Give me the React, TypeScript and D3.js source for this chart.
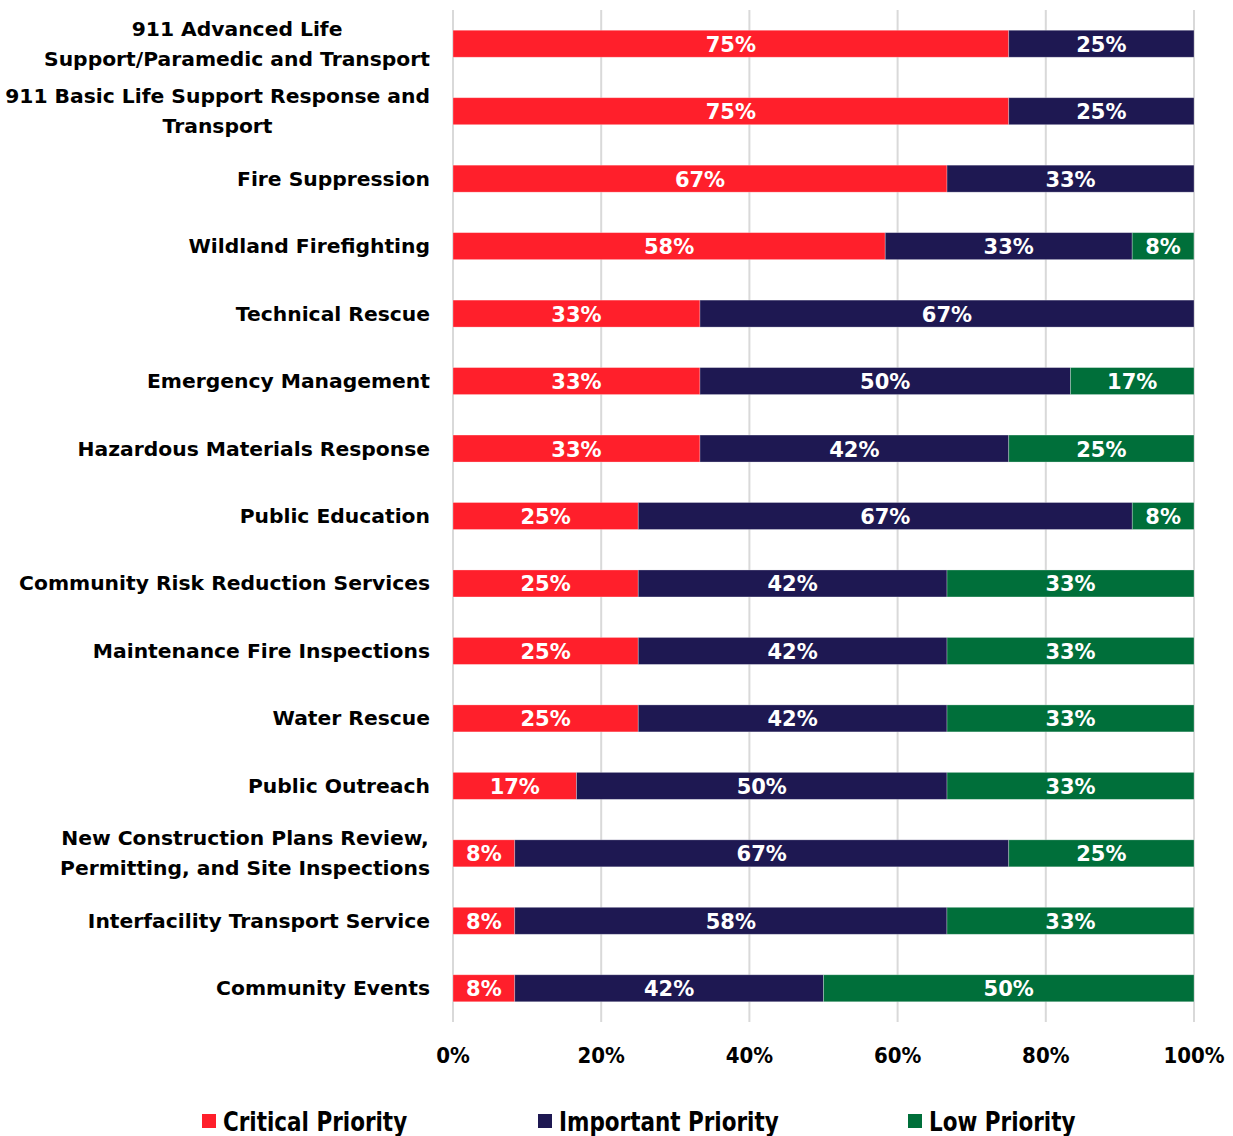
import React, { useEffect, useRef } from "react";
import * as d3 from "d3";

const categories: string[][] = [
  ["911 Advanced Life", "Support/Paramedic and Transport"],
  ["911 Basic Life Support Response and", "Transport"],
  ["Fire Suppression"],
  ["Wildland Firefighting"],
  ["Technical Rescue"],
  ["Emergency Management"],
  ["Hazardous Materials Response"],
  ["Public Education"],
  ["Community Risk Reduction Services"],
  ["Maintenance Fire Inspections"],
  ["Water Rescue"],
  ["Public Outreach"],
  ["New Construction Plans Review,", "Permitting, and Site Inspections"],
  ["Interfacility Transport Service"],
  ["Community Events"],
];

const critical = [75, 75, 66.67, 58.33, 33.33, 33.33, 33.33, 25, 25, 25, 25, 16.67, 8.33, 8.33, 8.33];
const important = [25, 25, 33.33, 33.33, 66.67, 50, 41.67, 66.67, 41.67, 41.67, 41.67, 50, 66.67, 58.33, 41.67];
const low = [0, 0, 0, 8.33, 0, 16.67, 25, 8.33, 33.33, 33.33, 33.33, 33.33, 25, 33.33, 50];

const seriesNames = ["Critical Priority", "Important Priority", "Low Priority"];
const seriesColors = ["#FF1F2B", "#1E1852", "#006F3A"];
const ticks = [0, 20, 40, 60, 80, 100];

export default function App() {
  const ref = useRef<SVGSVGElement>(null);

  useEffect(() => {
    const svg = d3.select(ref.current);
    svg.selectAll("*").remove();

    const x = d3.scaleLinear().domain([0, 100]).range([453, 1194]);
    const y = d3
      .scaleBand<number>()
      .domain(d3.range(categories.length))
      .range([10, 1022])
      .paddingInner(0.6)
      .paddingOuter(0.3);

    // gridlines
    svg
      .append("g")
      .selectAll("line")
      .data(ticks)
      .join("line")
      .attr("x1", (d) => x(d))
      .attr("x2", (d) => x(d))
      .attr("y1", 10)
      .attr("y2", 1022)
      .attr("stroke", "#D9D9D9")
      .attr("stroke-width", 2);

    const series = [critical, important, low];
    const rows = categories.map((_, i) => {
      let acc = 0;
      return series.map((s, k) => {
        const v = s[i];
        const seg = { i, k, x0: acc, x1: acc + v, v };
        acc += v;
        return seg;
      });
    });

    const segs = rows.flat().filter((s) => s.v > 0);
    const g = svg.append("g");
    g.selectAll("rect")
      .data(segs)
      .join("rect")
      .attr("x", (d) => x(d.x0))
      .attr("width", (d) => x(d.x1) - x(d.x0))
      .attr("y", (d) => y(d.i)!)
      .attr("height", y.bandwidth())
      .attr("fill", (d) => seriesColors[d.k])
      .attr("stroke", "rgba(255,255,255,0.35)")
      .attr("stroke-width", 0.8);

    g.selectAll("text")
      .data(segs)
      .join("text")
      .attr("x", (d) => (x(d.x0) + x(d.x1)) / 2)
      .attr("y", (d) => y(d.i)! + y.bandwidth() / 2 + 8)
      .attr("text-anchor", "middle")
      .attr("fill", "#FFFFFF")
      .attr("font-family", "'DejaVu Sans', sans-serif")
      .attr("font-weight", "bold")
      .attr("font-size", 21)
      .text((d) => `${Math.round(d.v)}%`);

    // category labels
    const lab = svg.append("g");
    categories.forEach((lines, i) => {
      const cy = y(i)! + y.bandwidth() / 2;
      const lh = 30;
      const grp = lab.append("g");
      const texts = lines.map((ln, j) =>
        grp
          .append("text")
          .attr("y", cy + (j - (lines.length - 1) / 2) * lh + 7)
          .attr("font-family", "'DejaVu Sans', sans-serif")
          .attr("font-weight", "bold")
          .attr("font-size", 20.3)
          .attr("fill", "#000")
          .attr("text-anchor", "middle")
          .text(ln)
      );
      const widths = texts.map((t) => (t.node() as SVGTextElement).getComputedTextLength());
      const maxW = d3.max(widths) || 0;
      texts.forEach((t) => t.attr("x", 430 - maxW / 2));
    });

    // x tick labels
    svg
      .append("g")
      .selectAll("text")
      .data(ticks)
      .join("text")
      .attr("transform", (d) => `translate(${x(d)},1063)`)
      .attr("text-anchor", "middle")
      .attr("font-family", "'DejaVu Sans Condensed', 'DejaVu Sans', sans-serif")
      .attr("font-weight", "bold")
      .attr("font-size", 22)
      .attr("fill", "#000")
      .text((d) => `${d}%`);

    // legend
    const legX = [202, 538, 908];
    const leg = svg.append("g");
    seriesNames.forEach((n, k) => {
      leg
        .append("rect")
        .attr("x", legX[k])
        .attr("y", 1114)
        .attr("width", 14)
        .attr("height", 14)
        .attr("fill", seriesColors[k]);
      leg
        .append("text")
        .attr("transform", `translate(${legX[k] + 21},1131) scale(0.885,1)`)
        .attr("font-family", "'DejaVu Sans Condensed', 'DejaVu Sans', sans-serif")
        .attr("font-weight", "bold")
        .attr("font-size", 27)
        .attr("fill", "#000")
        .text(n);
    });
  }, []);

  return (
    <svg
      ref={ref}
      width={1233}
      height={1136}
      style={{ position: "absolute", left: 0, top: 0, background: "#fff" }}
    />
  );
}
